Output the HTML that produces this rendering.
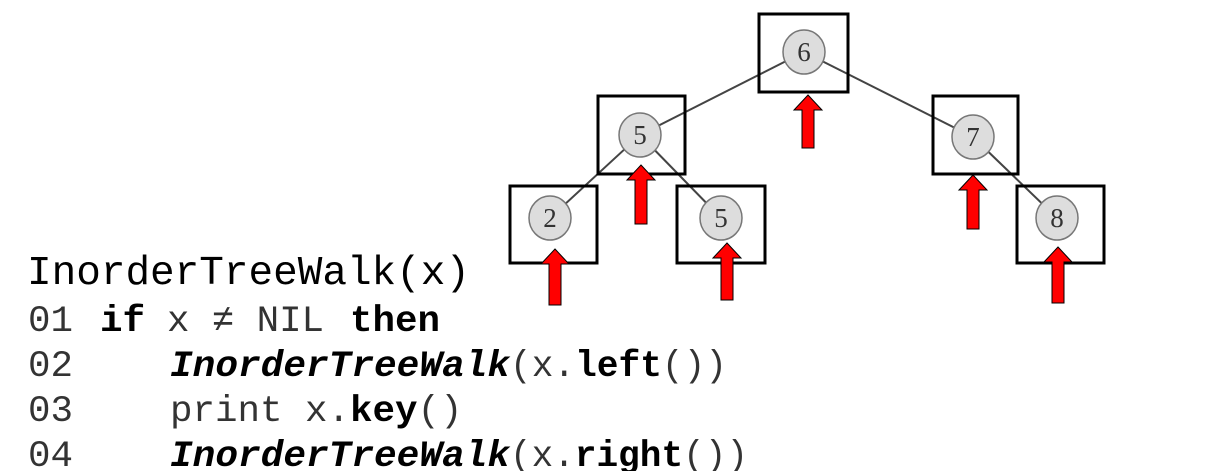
<!DOCTYPE html>
<html><head><style>
html,body{margin:0;padding:0;background:#fff;}
svg{display:block;}
.c{font-family:"Liberation Mono",monospace;fill:#333;}
.b{font-weight:bold;fill:#000;}
</style></head><body>
<svg width="1223" height="471" viewBox="0 0 1223 471" xmlns="http://www.w3.org/2000/svg">
<g stroke="#444" stroke-width="2">
<line x1="804" y1="52" x2="640" y2="135"/>
<line x1="804" y1="52" x2="973" y2="137"/>
<line x1="640" y1="135" x2="550" y2="218"/>
<line x1="640" y1="135" x2="721" y2="218"/>
<line x1="973" y1="137" x2="1057" y2="218"/>
</g>
<g fill="none" stroke="#000" stroke-width="3">
<rect x="759" y="14" width="89" height="78"/>
<rect x="598" y="96" width="87" height="78"/>
<rect x="933" y="96" width="85" height="78"/>
<rect x="510" y="186" width="87" height="77"/>
<rect x="677" y="186" width="88" height="77"/>
<rect x="1017" y="186" width="87" height="77"/>
</g>
<g fill="#ddd" stroke="#777" stroke-width="1.5">
<ellipse cx="804" cy="52" rx="21" ry="22"/>
<ellipse cx="640" cy="135" rx="21" ry="22"/>
<ellipse cx="973" cy="137" rx="21" ry="22"/>
<ellipse cx="550" cy="218" rx="21" ry="22"/>
<ellipse cx="721" cy="218" rx="21" ry="22"/>
<ellipse cx="1057" cy="218" rx="21" ry="22"/>
</g>
<g font-family="Liberation Serif,serif" font-size="27" fill="#333" text-anchor="middle">
<text x="804" y="61">6</text>
<text x="640" y="144">5</text>
<text x="973" y="146">7</text>
<text x="550" y="227">2</text>
<text x="721" y="227">5</text>
<text x="1057" y="227">8</text>
</g>
<g fill="#f00" stroke="#000" stroke-width="1">
<path d="M808 95 L822 110 L814 110 L814 148 L802 148 L802 110 L794 110 Z"/>
<path d="M641 165 L655 180 L647 180 L647 224 L635 224 L635 180 L627 180 Z"/>
<path d="M555 249 L569 264 L561 264 L561 305 L549 305 L549 264 L541 264 Z"/>
<path d="M727 243 L741 258 L733 258 L733 300 L721 300 L721 258 L713 258 Z"/>
<path d="M973 175 L987 190 L979 190 L979 229 L967 229 L967 190 L959 190 Z"/>
<path d="M1058 247 L1072 262 L1064 262 L1064 303 L1052 303 L1052 262 L1044 262 Z"/>
</g>
<g class="c" font-size="37.5">
<text x="27" y="284" font-size="41" fill="#000" textLength="443" lengthAdjust="spacingAndGlyphs">InorderTreeWalk(x)</text>
<text x="28" y="331">01</text>
<text x="100" y="331" class="b">if</text>
<text x="167" y="331" textLength="157">x ≠ NIL</text>
<text x="350" y="331" class="b">then</text>
<text x="28" y="376">02</text>
<text x="170" y="376" class="b" font-style="italic" textLength="340" lengthAdjust="spacingAndGlyphs">InorderTreeWalk</text>
<text x="510" y="376" textLength="217" lengthAdjust="spacingAndGlyphs">(x.<tspan class="b">left</tspan>())</text>
<text x="28" y="421">03</text>
<text x="170" y="421">print x.<tspan class="b">key</tspan>()</text>
<text x="28" y="466">04</text>
<text x="170" y="466" class="b" font-style="italic" textLength="340" lengthAdjust="spacingAndGlyphs">InorderTreeWalk</text>
<text x="510" y="466" textLength="238" lengthAdjust="spacingAndGlyphs">(x.<tspan class="b">right</tspan>())</text>
</g>
</svg>
</body></html>
